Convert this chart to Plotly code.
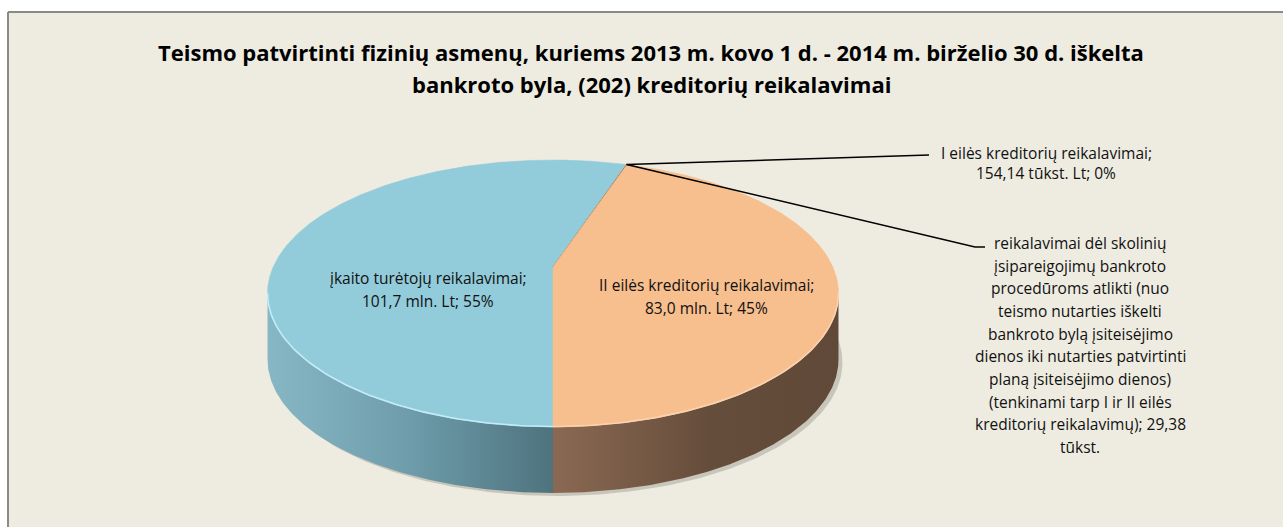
import numpy as np
import plotly.graph_objects as go

# ---------------- data ----------------
categories = [
    "įkaito turėtojų reikalavimai",
    "I eilės kreditorių reikalavimai",
    "reikalavimai dėl skolinių įsipareigojimų bankroto procedūroms atlikti (nuo teismo nutarties iškelti bankroto bylą įsiteisėjimo dienos iki nutarties patvirtinti planą įsiteisėjimo dienos) (tenkinami tarp I ir II eilės kreditorių reikalavimų)",
    "II eilės kreditorių reikalavimai",
]
values_tukst_lt = [101700.0, 154.14, 29.38, 83000.0]
value_labels = ["101,7 mln. Lt", "154,14 tūkst. Lt", "29,38 tūkst.", "83,0 mln. Lt"]
show_percent = [True, True, False, True]

title_lines = [
    "Teismo patvirtinti fizinių asmenų, kuriems 2013 m. kovo 1 d. - 2014 m. birželio 30 d. iškelta",
    "bankroto byla, (202) kreditorių reikalavimai",
]

# ---------------- style / geometry ----------------
W, H = 1283, 527
top_colors = ["#92CBDA", "#C0504D", "#9BBB59", "#F7BE8E"]
side_scales = [
    [[0, "#87B7C5"], [0.5, "#6E9CAA"], [1, "#4E737E"]],
    [[0, "#8A3A38"], [1, "#6A2C2A"]],
    [[0, "#6F8A40"], [1, "#566B32"]],
    [[0, "#8A6953"], [0.55, "#654D3B"], [1, "#604938"]],
]
rim_colors = ["#C2ECF7", None, None, "#FBD2AE"]
cx, cy = 553.0, 267.0
A, B, K = 279.8, 128.2, 0.1985
D = 66.0
start_angle = 180.0
FONT = "Open Sans"


def proj(theta_deg):
    t = np.radians(np.asarray(theta_deg, dtype=float))
    u, v = np.sin(t), np.cos(t)
    w = 1 + K * v
    return cx + A * u / w, cy - B * v / w


total = sum(values_tukst_lt)
spans = [v / total * 360.0 for v in values_tukst_lt]
bounds = []
a = start_angle
for s in spans:
    bounds.append((a, a + s))
    a += s

vis0 = np.degrees(np.arccos(-K))
vis1 = 360.0 - vis0

fig = go.Figure()

# shadow
th = np.linspace(0, 360, 361)
sx, sy = proj(th)
fig.add_trace(go.Scatter(x=sx + 4, y=sy + D + 3, mode="lines", fill="toself",
                         fillcolor="rgba(70,60,50,0.22)", line=dict(width=0),
                         hoverinfo="skip", showlegend=False))

# sides
for i, (a0, a1) in enumerate(bounds):
    for off in (0.0, 360.0, -360.0):
        lo, hi = max(a0, vis0 + off), min(a1, vis1 + off)
        if hi > lo:
            n = max(3, int((hi - lo) * 2))
            tt = np.linspace(lo, hi, n)
            x, y = proj(tt)
            px = np.concatenate([x, x[::-1], x[:1]])
            py = np.concatenate([y, y[::-1] + D, y[:1]])
            fig.add_trace(go.Scatter(
                x=px, y=py, mode="lines", fill="toself",
                fillgradient=dict(type="horizontal", colorscale=side_scales[i]),
                line=dict(width=0), hoverinfo="skip", showlegend=False))

# top faces
for i, (a0, a1) in enumerate(bounds):
    n = max(3, int((a1 - a0) * 2))
    tt = np.linspace(a0, a1, n)
    x, y = proj(tt)
    px = np.concatenate([[cx], x, [cx]])
    py = np.concatenate([[cy], y, [cy]])
    fig.add_trace(go.Scatter(x=px, y=py, mode="lines", fill="toself",
                             fillcolor=top_colors[i], line=dict(width=0.6, color=top_colors[i]),
                             name=categories[i], hoverinfo="name", showlegend=False))

# rim highlights on front edge
for i, (a0, a1) in enumerate(bounds):
    if rim_colors[i] is None:
        continue
    for off in (0.0, 360.0, -360.0):
        lo, hi = max(a0, vis0 + off), min(a1, vis1 + off)
        if hi > lo:
            tt = np.linspace(lo, hi, 100)
            x, y = proj(tt)
            fig.add_trace(go.Scatter(x=x, y=y - 0.5, mode="lines",
                                     line=dict(width=1.6, color=rim_colors[i]),
                                     hoverinfo="skip", showlegend=False))

# leader lines for the tiny slices
tip_x, tip_y = proj((bounds[1][0] + bounds[2][1]) / 2)
leaders = [((921, 155), (929, 155)), ((975, 247), (985, 247))]
for (mx, my), (ex, ey) in leaders:
    fig.add_trace(go.Scatter(x=[float(tip_x), mx, ex], y=[float(tip_y), my, ey], mode="lines",
                             line=dict(width=1.5, color="#000000"),
                             hoverinfo="skip", showlegend=False))


def pct(i):
    return f"{round(values_tukst_lt[i] / total * 100):.0f}%"


def full_label(i):
    parts = [categories[i], value_labels[i]]
    if show_percent[i]:
        parts.append(pct(i))
    return "; ".join(parts)


# label line breaking (layout), text from data
line_word_counts = {
    0: [3, 4],
    3: [4, 4],
    1: [4, 4],
    2: [3, 2, 3, 3, 3, 4, 3, 6, 3, 1],
}
label_pos = {0: (428, 278, 22.5), 3: (706, 285, 22.5), 1: (1046, 153, 19.5), 2: (1080, 243, 22.67)}

annotations = []
for i in range(4):
    words = full_label(i).split(" ")
    lines = []
    p = 0
    for c in line_word_counts[i]:
        lines.append(" ".join(words[p:p + c]))
        p += c
    x0, y0, dy = label_pos[i]
    for j, ln in enumerate(lines):
        annotations.append(dict(x=x0, y=y0 + j * dy, xref="x", yref="y", text=ln,
                                showarrow=False, xanchor="center", yanchor="middle",
                                font=dict(family=FONT, size=15.5, color="#111111")))

for j, ln in enumerate(title_lines):
    annotations.append(dict(x=651, y=52 + j * 32, xref="x", yref="y", text=f"<b>{ln}</b>",
                            showarrow=False, xanchor="center", yanchor="middle",
                            font=dict(family=FONT, size=22, color="#000000")))

frame_col = "#8A8A8A"
fig.update_layout(
    width=W, height=H, autosize=False,
    margin=dict(l=0, r=0, t=0, b=0),
    paper_bgcolor="#FFFFFF", plot_bgcolor="rgba(0,0,0,0)",
    xaxis=dict(range=[0, W], visible=False, fixedrange=True),
    yaxis=dict(range=[H, 0], visible=False, fixedrange=True),
    shapes=[
        dict(type="rect", xref="x", yref="y", x0=8, y0=12, x1=W, y1=H,
             fillcolor="#EEECE1", line=dict(width=0), layer="below"),
        dict(type="line", xref="x", yref="y", x0=8, y0=12, x1=W, y1=12,
             line=dict(color=frame_col, width=2), layer="below"),
        dict(type="line", xref="x", yref="y", x0=8, y0=12, x1=8, y1=H,
             line=dict(color=frame_col, width=2), layer="below"),
    ],
    annotations=annotations,
    showlegend=False,
)

fig.write_html(
    "out.html",
    config={"displayModeBar": False},
    post_script="document.body.style.margin='0';document.body.style.overflow='hidden';",
)
